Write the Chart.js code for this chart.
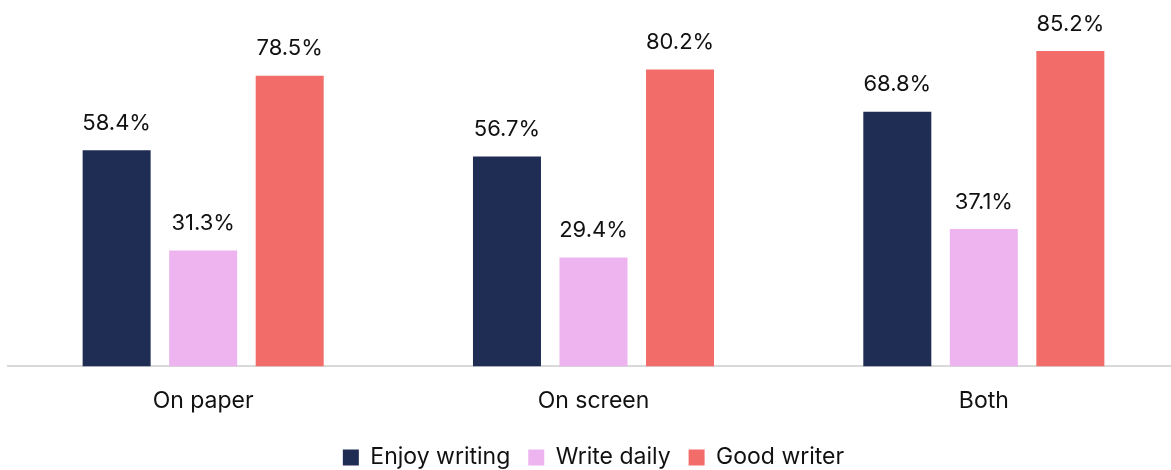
<!DOCTYPE html>
<html>
<head>
<meta charset="utf-8">
<script src="https://cdn.jsdelivr.net/npm/chart.js@4.4.0/dist/chart.umd.min.js"></script>
<style>
  html, body { margin: 0; padding: 0; background: #fff; overflow: hidden; }
  .wrap { width: 1180px; height: 479px; }
</style>
</head>
<body>
<div class="wrap"><canvas id="myChart"></canvas></div>
<script>
const categories = ["On paper", "On screen", "Both"];
const enjoyWriting = [58.4, 56.7, 68.8];
const writeDaily = [31.3, 29.4, 37.1];
const goodWriter = [78.5, 80.2, 85.2];

const FONT = "Inter, 'Noto Sans', sans-serif";

// value labels above each bar
const barLabels = {
  id: 'barLabels',
  afterDatasetsDraw(chart) {
    const ctx = chart.ctx;
    ctx.save();
    ctx.font = "22px " + FONT;
    ctx.fillStyle = "#111";
    ctx.textAlign = "center";
    ctx.textBaseline = "middle";
    chart.data.datasets.forEach((ds, i) => {
      chart.getDatasetMeta(i).data.forEach((bar, j) => {
        ctx.fillText(ds.data[j].toFixed(1) + "%", bar.x, bar.y - 27);
      });
    });
    ctx.restore();
  }
};

const ctx = document.getElementById('myChart').getContext('2d');
const myChart = new Chart(ctx, {
  type: 'bar',
  data: {
    labels: categories,
    datasets: [{
      label: "Enjoy writing",
      data: enjoyWriting,
      backgroundColor: "#1f2d54",
    }, {
      label: "Write daily",
      data: writeDaily,
      backgroundColor: "#edb4f0",
    }, {
      label: "Good writer",
      data: goodWriter,
      backgroundColor: "#f26d6a",
    }]
  },
  options: {
    responsive: true,
    maintainAspectRatio: false,
    animation: false,
    categoryPercentage: 0.665,
    barPercentage: 0.786,
    layout: { padding: { left: 8, right: 1, top: 0, bottom: 0 } },
    plugins: {
      tooltip: { enabled: false },
      legend: {
        position: 'bottom',
        labels: {
          color: "#111",
          font: { family: FONT, size: 23 },
          boxWidth: 16,
          boxHeight: 16,
          padding: 18
        }
      }
    },
    scales: {
      x: {
        grid: { display: false },
        border: { display: true, color: "#d9d9d9", width: 2 },
        ticks: { color: "#111", font: { family: FONT, size: 23 }, padding: 13 }
      },
      y: {
        display: false,
        min: 0,
        max: 99
      }
    }
  },
  plugins: [barLabels]
});
</script>
</body>
</html>
